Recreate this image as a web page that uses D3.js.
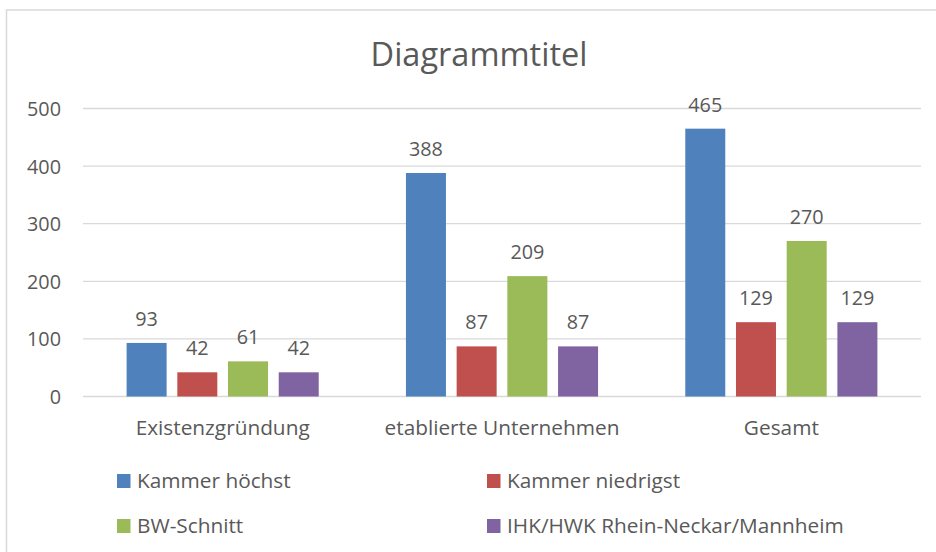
<!DOCTYPE html>
<html><head><meta charset="utf-8">
<script src="https://cdn.jsdelivr.net/npm/d3@7"></script>
<style>
html,body{margin:0;padding:0;background:#fff;}
text{font-family:"Open Sans",sans-serif;fill:#595959;}
</style></head>
<body><svg id="c" width="936" height="552"></svg>
<script>
const categories = ["Existenzgründung", "etablierte Unternehmen", "Gesamt"];
const seriesNames = ["Kammer höchst", "Kammer niedrigst", "BW-Schnitt", "IHK/HWK Rhein-Neckar/Mannheim"];
const kammerHoechst = [93, 388, 465];
const kammerNiedrigst = [42, 87, 129];
const bwSchnitt = [61, 209, 270];
const ihkMannheim = [42, 87, 129];
const yTicks = [0, 100, 200, 300, 400, 500];
const colors = ["#4F81BD", "#C0504D", "#9BBB59", "#8064A2"];
const title = "Diagrammtitel";

const seriesValues = [kammerHoechst, kammerNiedrigst, bwSchnitt, ihkMannheim];
const svg = d3.select("#c");

// chart border
svg.append("rect").attr("x", 6.5).attr("y", 10).attr("width", 960).attr("height", 600)
  .attr("fill", "none").attr("stroke", "#d9d9d9").attr("stroke-width", 1.5);

const plot = {left: 83, right: 921, top: 108.5, bottom: 396.5};
const y = d3.scaleLinear().domain([0, 500]).range([plot.bottom, plot.top]);
const x0 = d3.scaleBand().domain(categories).range([plot.left, plot.right]);
const x1 = d3.scaleBand().domain(seriesNames).range([0, x0.bandwidth()])
  .paddingInner(0.211).paddingOuter(0.86);

// gridlines
svg.append("g").selectAll("line").data(yTicks).join("line")
  .attr("x1", plot.left).attr("x2", plot.right)
  .attr("y1", d => y(d)).attr("y2", d => y(d))
  .attr("stroke", "#d9d9d9").attr("stroke-width", 1.3);

// y axis labels
const yAxis = d3.axisLeft(y).tickValues(yTicks).tickSize(0).tickPadding(0);
const ya = svg.append("g").attr("transform", "translate(61,0)").call(yAxis);
ya.select(".domain").remove();
ya.selectAll("text").attr("font-size", 19.8).attr("fill", "#595959")
  .style("font-family", '"Open Sans",sans-serif').attr("dy", "0.35em");

// x axis labels
const xAxis = d3.axisBottom(x0).tickSize(0).tickPadding(0);
const xa = svg.append("g").attr("transform", `translate(0,${plot.bottom})`).call(xAxis);
xa.select(".domain").remove();
xa.selectAll("text").attr("font-size", 20.8).attr("fill", "#595959")
  .style("font-family", '"Open Sans",sans-serif').attr("dy", 0).attr("y", 38.5);

// bars
const data = [];
categories.forEach((c, ci) => seriesNames.forEach((s, si) => data.push({c, s, si, v: seriesValues[si][ci]})));
const g = svg.append("g");
g.selectAll("rect").data(data).join("rect")
  .attr("x", d => x0(d.c) + x1(d.s))
  .attr("width", x1.bandwidth())
  .attr("y", d => y(d.v))
  .attr("height", d => y(0) - y(d.v))
  .attr("fill", d => colors[d.si]);
g.selectAll("text").data(data).join("text")
  .attr("x", d => x0(d.c) + x1(d.s) + x1.bandwidth() / 2)
  .attr("y", d => y(d.v) - 17)
  .attr("text-anchor", "middle").attr("font-size", 19.8)
  .text(d => d.v);

// title
svg.append("text").attr("x", 479).attr("y", 65.5).attr("text-anchor", "middle")
  .attr("font-size", 32.5).text(title);

// legend
const legPos = [[117, 488], [487, 488], [117, 533], [487, 533]];
const leg = svg.append("g").selectAll("g").data(seriesNames).join("g")
  .attr("transform", (d, i) => `translate(${legPos[i][0]},${legPos[i][1]})`);
leg.append("rect").attr("x", 0).attr("y", -14).attr("width", 13.5).attr("height", 14)
  .attr("fill", (d, i) => colors[i]);
leg.append("text").attr("x", 20).attr("y", 0).attr("font-size", 20.8).text(d => d);
</script></body></html>
